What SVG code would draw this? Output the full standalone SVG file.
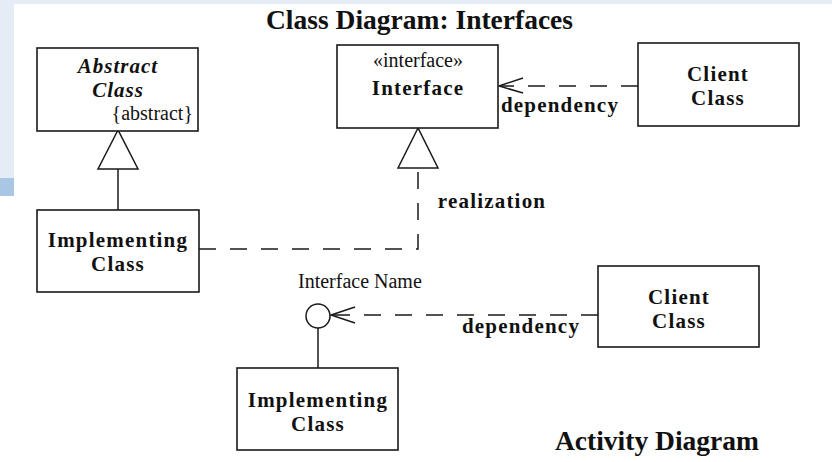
<svg xmlns="http://www.w3.org/2000/svg" width="832" height="462" viewBox="0 0 832 462">
<style>
  .box { fill: #fff; stroke: #1a1a1a; stroke-width: 1.6; }
  .line { fill: none; stroke: #1a1a1a; stroke-width: 1.5; }
  .dash { fill: none; stroke: #1a1a1a; stroke-width: 1.5; stroke-dasharray: 17 14; }
  .tri { fill: #fff; stroke: #1a1a1a; stroke-width: 1.5; stroke-linejoin: miter; }
  text { font-family: "Liberation Serif", "Times New Roman", serif; fill: #111; }
  .b { font-weight: bold; font-size: 21px; letter-spacing: 1.2px; text-anchor: middle; }
  .i { font-weight: bold; font-style: italic; font-size: 21px; letter-spacing: 1px; text-anchor: middle; }
  .r { font-size: 20px; }
  .title { font-weight: bold; font-size: 27.5px; }
</style>
<rect x="0" y="0" width="832" height="462" fill="#fff"/>
<rect x="0" y="0" width="832" height="4" fill="#e5ecf6"/>
<rect x="0" y="0" width="14" height="178" fill="#e5ecf6"/>
<rect x="0" y="178" width="14" height="18" fill="#a9c6e4"/>

<text class="title" x="266" y="29">Class Diagram: Interfaces</text>

<g id="connectors">
  <!-- generalization -->
  <line class="line" x1="118" y1="169" x2="118" y2="210"/>
  <polygon class="tri" points="118,130 98,169 138,169"/>
  <!-- realization -->
  <polyline class="dash" points="199,249 418,249 418,168"/>
  <polygon class="tri" points="418,128 398,168 438,168"/>
  <text class="b" x="492" y="208">realization</text>
  <!-- top dependency -->
  <line class="dash" x1="638" y1="86" x2="500" y2="86"/>
  <polyline class="line" points="523,78 499,86 523,93"/>
  <text class="b" x="560" y="112">dependency</text>
  <!-- lollipop -->
  <line class="line" x1="318" y1="328" x2="318" y2="368"/>
  <circle cx="318" cy="316" r="12" fill="#fff" stroke="#1a1a1a" stroke-width="1.5"/>
  <line class="dash" x1="598" y1="315" x2="331" y2="315"/>
  <polyline class="line" points="355,307 331,315 355,323"/>
  <text class="b" x="521" y="333">dependency</text>
</g>

<g id="abstract-class">
  <rect class="box" x="37" y="48" width="161" height="83"/>
  <text class="i" x="118" y="73">Abstract</text>
  <text class="i" x="118" y="97">Class</text>
  <text class="r" x="193" y="120" text-anchor="end">{abstract}</text>
</g>

<g id="implementing-class-1">
  <rect class="box" x="37" y="210" width="162" height="82"/>
  <text class="b" x="118" y="247">Implementing</text>
  <text class="b" x="118" y="271">Class</text>
</g>

<g id="interface">
  <rect class="box" x="337" y="45" width="161" height="83"/>
  <text class="r" x="418" y="67" text-anchor="middle">«interface»</text>
  <text class="b" x="418" y="95">Interface</text>
</g>

<g id="client-class-1">
  <rect class="box" x="638" y="43" width="161" height="83"/>
  <text class="b" x="718" y="81">Client</text>
  <text class="b" x="718" y="105">Class</text>
</g>

<g id="interface-name">
  <text class="r" x="298" y="288">Interface Name</text>
</g>

<g id="client-class-2">
  <rect class="box" x="598" y="266" width="161" height="81"/>
  <text class="b" x="679" y="304">Client</text>
  <text class="b" x="679" y="328">Class</text>
</g>

<g id="implementing-class-2">
  <rect class="box" x="237" y="368" width="161" height="82"/>
  <text class="b" x="318" y="407">Implementing</text>
  <text class="b" x="318" y="431">Class</text>
</g>

<text class="title" x="555" y="450">Activity Diagram</text>
</svg>
